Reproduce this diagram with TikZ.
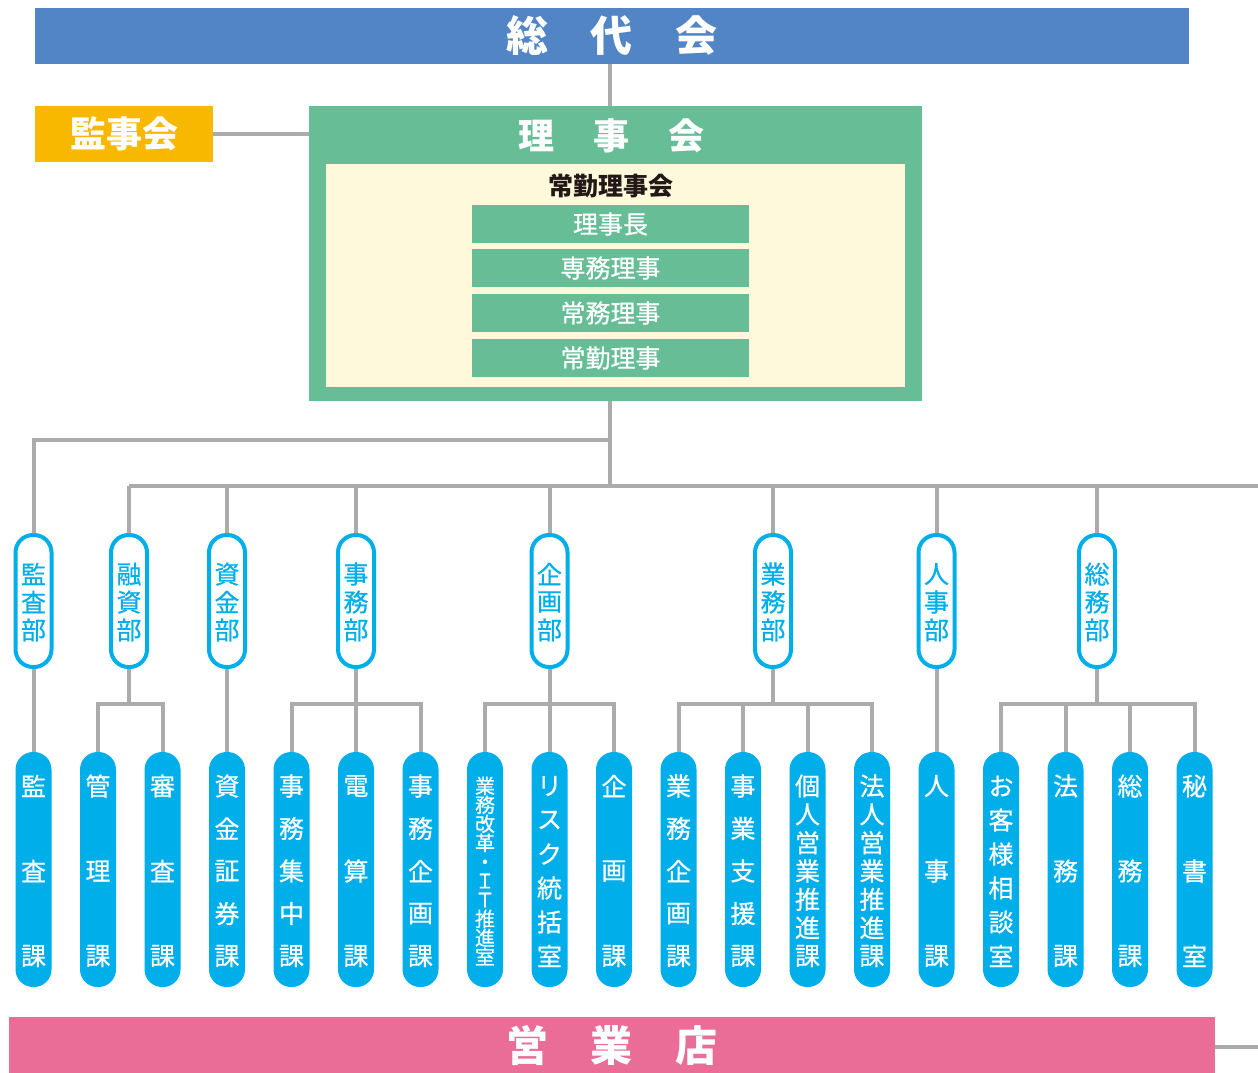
\documentclass[tikz,border=0pt]{standalone}
\usepackage{fontspec}
\setmainfont{Noto Sans CJK JP}
\newfontfamily\jpm{Noto Sans CJK JP}[FakeBold=0.6]
\usetikzlibrary{backgrounds}
\definecolor{sodaic}{HTML}{5285C5}
\definecolor{kanjic}{HTML}{F8B800}
\definecolor{rgreen}{HTML}{67BE96}
\definecolor{creamc}{HTML}{FEF9DB}
\definecolor{cyanb}{HTML}{00AEEA}
\definecolor{eigyoc}{HTML}{E96D97}
\definecolor{lgray}{HTML}{ABABAB}
\definecolor{darktxt}{HTML}{231815}
\tikzset{
  bar/.style={rectangle, inner sep=0pt, text=white, font=\bfseries\fontsize{42}{42}\selectfont},
  conn/.style={draw=lgray, line width=4pt},
  dept/.style={rectangle, draw=cyanb, fill=white, line width=4pt, minimum width=36pt, minimum height=132pt, rounded corners=17.5pt, inner sep=0pt},
  depttxt/.style={text=cyanb, inner sep=0pt, font=\jpm\fontsize{25}{25}\selectfont},
  sect/.style={rectangle, fill=cyanb, minimum width=36pt, minimum height=235pt, rounded corners=17.5pt, inner sep=0pt},
  secttxt/.style={text=white, inner sep=0pt},
  post/.style={rectangle, fill=rgreen, minimum width=277pt, minimum height=38pt, inner sep=0pt, text=white, font=\jpm\fontsize{25}{25}\selectfont},
}
\newcommand\secbox[4]{%
  \node[sect] (#1) at (#2,869.5) {};
  \foreach \c [count=\n] in {#4} {\xdef\nchars{\n}}
  \foreach \c [count=\n] in {#4} {
    \pgfmathsetmacro\yy{786+170*(\n-1)/(\nchars-1)}
    \node[secttxt,font=\jpm\fontsize{#3}{#3}\selectfont] (#1-\n) at (#2,\yy) {\c};
  }
}
\newcommand\deptbox[3]{%
  \node[dept] (#1) at (#2,601) {};
  \foreach \c [count=\n] in {#3} {
    \pgfmathsetmacro\yy{574+28*(\n-1)}
    \node[depttxt] (#1-\n) at (#2,\yy) {\c};
  }
}
\begin{document}
\begin{tikzpicture}[x=1pt,y=-1pt]
\useasboundingbox (0,0) rectangle (1258,1072);
% top
\node[bar, fill=sodaic, minimum width=1154pt, minimum height=56pt] (sodai) at (612,36) {総\hspace{43pt}代\hspace{43pt}会};
\node[bar, fill=kanjic, minimum width=178pt, minimum height=56pt, font=\bfseries\fontsize{36}{36}\selectfont] (kanjikai) at (124,134) {監事会};
\node[rectangle, fill=rgreen, minimum width=613pt, minimum height=295pt, inner sep=0pt] (riji) at (615.5,253.5) {};
\node[text=white, inner sep=0pt, font=\bfseries\fontsize{36}{36}\selectfont] (rijititle) at (611.5,136) {理\hspace{39pt}事\hspace{39pt}会};
\node[rectangle, fill=creamc, minimum width=579pt, minimum height=223pt, inner sep=0pt] (jokin) at (615.5,275.5) {};
\node[text=darktxt, inner sep=0pt, font=\bfseries\fontsize{25}{25}\selectfont] (jokintitle) at (610.5,186) {常勤理事会};
\node[post] (p1) at (610.5,224) {理事長};
\node[post] (p2) at (610.5,268) {専務理事};
\node[post] (p3) at (610.5,313) {常務理事};
\node[post] (p4) at (610.5,358) {常勤理事};
% departments
\deptbox{d1}{33.5}{監,査,部}
\deptbox{d2}{129}{融,資,部}
\deptbox{d3}{227}{資,金,部}
\deptbox{d4}{356}{事,務,部}
\deptbox{d5}{549.5}{企,画,部}
\deptbox{d6}{773}{業,務,部}
\deptbox{d7}{936.5}{人,事,部}
\deptbox{d8}{1097}{総,務,部}
% sections
\secbox{s1}{33.5}{25}{監,査,課}
\secbox{s2}{98}{25}{管,理,課}
\secbox{s3}{162.5}{25}{審,査,課}
\secbox{s4}{227}{25}{資,金,証,券,課}
\secbox{s5}{291.5}{25}{事,務,集,中,課}
\secbox{s6}{356}{25}{電,算,課}
\secbox{s7}{420.5}{25}{事,務,企,画,課}
\node[sect] (s8) at (485,869.5) {};
\node[secttxt, align=center, font=\jpm\fontsize{20}{19}\selectfont] (s8-t) at (485,871) {業\\務\\改\\革\\・\\Ｉ\\Ｔ\\推\\進\\室};
\secbox{s9}{549.5}{25}{リ,ス,ク,統,括,室}
\secbox{s10}{614}{25}{企,画,課}
\secbox{s11}{678.5}{25}{業,務,企,画,課}
\secbox{s12}{743}{25}{事,業,支,援,課}
\secbox{s13}{807.5}{25}{個,人,営,業,推,進,課}
\secbox{s14}{872}{25}{法,人,営,業,推,進,課}
\secbox{s15}{936.5}{25}{人,事,課}
\secbox{s16}{1001}{25}{お,客,様,相,談,室}
\secbox{s17}{1065.5}{25}{法,務,課}
\secbox{s18}{1130}{25}{総,務,課}
\secbox{s19}{1194.5}{25}{秘,書,室}
% bottom
\node[bar, fill=eigyoc, minimum width=1206pt, minimum height=56pt] (eigyo) at (612,1045) {営\hspace{43pt}業\hspace{43pt}店};
% connectors
\coordinate (trunk) at (610,0);
\coordinate (bus) at (1258,486);
\coordinate (kan) at (0,440);
\coordinate (br) at (0,704);
\coordinate (eg) at (1258,1047);
\begin{scope}[on background layer]
\draw[conn] (sodai.south -| trunk) -- (riji.north -| trunk);
\draw[conn] (kanjikai.east) -- (kanjikai.east -| riji.west);
\draw[conn] (riji.south -| trunk) -- (trunk |- bus);
\draw[conn] (trunk |- kan) -| (d1.north);
\draw[conn] (d2.north |- bus) -- (bus);
\foreach \d in {d2,d3,d4,d5,d6,d7,d8} \draw[conn] (\d.north |- bus) -- (\d.north);
\draw[conn] (d1.south) -- (s1.north);
\draw[conn] (d3.south) -- (s4.north);
\draw[conn] (d7.south) -- (s15.north);
\draw[conn] (d2.south) -- (d2.south |- br);
\draw[conn] (s2.north) |- (d2.south |- br) -| (s3.north);
\draw[conn] (d4.south) -- (d4.south |- br);
\draw[conn] (s5.north) |- (d4.south |- br) -| (s7.north);
\draw[conn] (s6.north |- br) -- (s6.north);
\draw[conn] (d5.south) -- (d5.south |- br);
\draw[conn] (s8.north) |- (d5.south |- br) -| (s10.north);
\draw[conn] (s9.north |- br) -- (s9.north);
\draw[conn] (d6.south) -- (d6.south |- br);
\draw[conn] (s11.north) |- (d6.south |- br) -| (s14.north);
\draw[conn] (s12.north |- br) -- (s12.north);
\draw[conn] (s13.north |- br) -- (s13.north);
\draw[conn] (d8.south) -- (d8.south |- br);
\draw[conn] (s16.north) |- (d8.south |- br) -| (s19.north);
\draw[conn] (s17.north |- br) -- (s17.north);
\draw[conn] (s18.north |- br) -- (s18.north);
\draw[conn] (eigyo.east |- eg) -- (eg);
\end{scope}
\end{tikzpicture}
\end{document}
